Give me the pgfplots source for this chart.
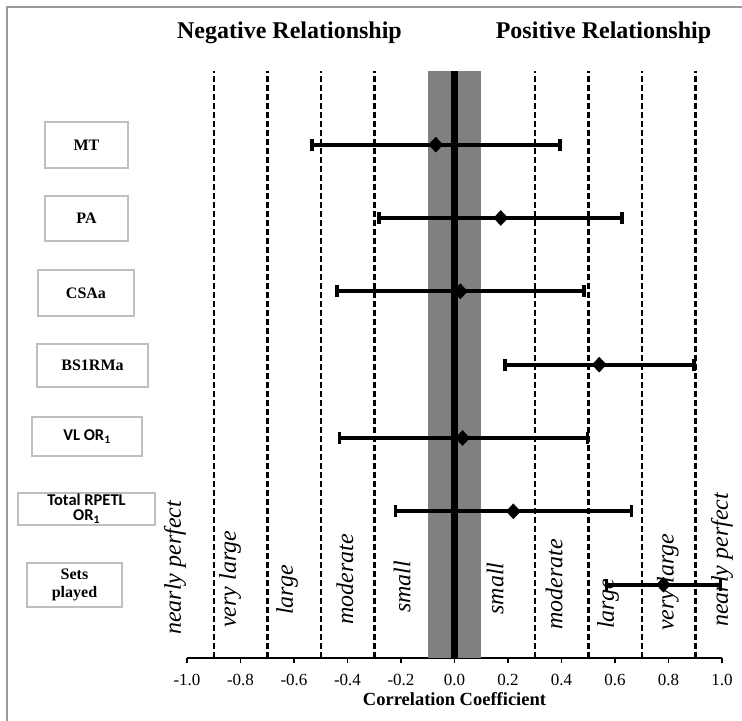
\documentclass[border=0pt]{standalone}
\usepackage{pgfplots}
\pgfplotsset{compat=1.18}
\usepackage{pgfplotstable}
\usepackage{fontspec}
\setmainfont{Liberation Serif}
\newfontfamily\calib{Carlito}

% correlation, upper and lower distance to CI limits; rows 7 (top) .. 1 (bottom)
\pgfplotstableread{
y x ep em
7 -0.070 0.464 0.462
6 0.173 0.453 0.455
5 0.022 0.462 0.462
4 0.541 0.355 0.352
3 0.030 0.467 0.460
2 0.220 0.442 0.440
1 0.781 0.214 0.212
}\corr

\tikzset{
  lab/.style={rotate=90, anchor=west, inner sep=0pt, font=\fontsize{24bp}{28bp}\selectfont\itshape},
  box/.style={draw=gray!50, line width=1.5bp, inner sep=0pt, align=center,
    font=\fontsize{16bp}{18bp}\selectfont\bfseries},
}

\begin{document}
\begin{tikzpicture}
\useasboundingbox (0,0) rectangle (742bp,-721bp);
\draw[gray!80, line width=2bp] (7bp,-721bp) -- (7bp,-7bp) -- (742bp,-7bp);
\begin{axis}[
  at={(187bp,-658bp)}, anchor=south west,
  scale only axis, width=535bp, height=586.7bp,
  xmin=-1, xmax=1, ymin=0, ymax=8,
  axis x line*=bottom, axis y line=none,
  axis line style={black, line width=1.5bp},
  xtick={-1,-0.8,-0.6,-0.4,-0.2,0,0.2,0.4,0.6,0.8,1},
  tick align=outside, major tick length=5bp,
  tick style={black, line width=1.2bp},
  xticklabel style={/pgf/number format/.cd, fixed, fixed zerofill, precision=1, assume math mode=true},
  ticklabel style={font=\fontsize{17bp}{20bp}\selectfont, yshift=-8bp},
  xlabel={Correlation Coefficient},
  xlabel style={font=\fontsize{18.5bp}{22bp}\selectfont\bfseries, yshift=0bp},
  clip=false,
]
% small band
\addplot[fill=black!50, draw=none] coordinates {(-0.1,8) (0.1,8)} \closedcycle;
% thresholds
\pgfplotsinvokeforeach{-0.9,-0.7,-0.5,-0.3,0.3,0.5,0.7,0.9}{
  \addplot[black, line width=2.5bp, dash pattern=on 6bp off 3bp] coordinates {(#1,0) (#1,8)};
}
% correlations with CI
\addplot[only marks, black, mark=diamond*, mark size=7.5bp, mark options={xscale=1.25},
  error bars/.cd, x dir=both, x explicit, error mark=|,
  error bar style={line width=4bp},
  error mark options={line width=3.5bp, mark size=6bp}]
  table[x=x, y=y, x error plus=ep, x error minus=em] {\corr};
% zero line
\addplot[black, line width=7.5bp] coordinates {(0,0) (0,8)};

\node[lab] at (axis cs:-1.045,0.314) {nearly perfect};
\node[lab] at (axis cs:-0.839,0.409) {very large};
\node[lab] at (axis cs:-0.626,0.586) {large};
\node[lab] at (axis cs:-0.410,0.450) {moderate};
\node[lab] at (axis cs:-0.196,0.614) {small};
\node[lab] at (axis cs:0.152,0.590) {small};
\node[lab] at (axis cs:0.373,0.382) {moderate};
\node[lab] at (axis cs:0.574,0.395) {large};
\node[lab] at (axis cs:0.798,0.368) {very large};
\node[lab] at (axis cs:1.000,0.423) {nearly perfect};
\end{axis}

\begin{scope}[x=1bp, y=-1bp]
\node[anchor=base, font=\fontsize{24bp}{28bp}\selectfont\bfseries] at (289.5,38) {Negative Relationship};
\node[anchor=base, font=\fontsize{24bp}{28bp}\selectfont\bfseries] at (603.5,38) {Positive Relationship};
\node[box, minimum width=83bp, minimum height=46bp] at (86.5,145) {MT};
\node[box, minimum width=83bp, minimum height=45bp] at (86.5,218.5) {PA};
\node[box, minimum width=96bp, minimum height=46bp] at (86,293) {CSAa};
\node[box, minimum width=111bp, minimum height=43bp] at (92.5,365.5) {BS1RMa};
\node[box, minimum width=110bp, minimum height=39bp, font=\fontsize{16.5bp}{18bp}\selectfont\calib\bfseries] at (87,436.5) {VL OR\textsubscript{1}};
\node[box, minimum width=137bp, minimum height=32bp, font=\fontsize{16.5bp}{15bp}\selectfont\calib\bfseries] at (86.5,509) {Total RPETL\\OR\textsubscript{1}};
\node[box, minimum width=95bp, minimum height=44bp] at (74.5,585) {Sets\\played};
\end{scope}
\end{tikzpicture}
\end{document}
